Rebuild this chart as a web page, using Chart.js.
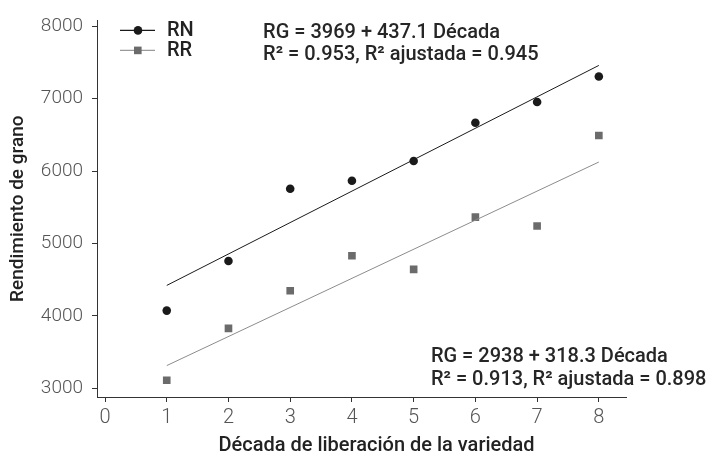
<!DOCTYPE html>
<html>
<head>
<meta charset="utf-8">
<script src="https://cdn.jsdelivr.net/npm/chart.js@4.4.1/dist/chart.umd.min.js"></script>
<style>
  html, body { margin: 0; padding: 0; background: #fff; }
  #wrap { width: 709px; height: 460px; }
</style>
</head>
<body>
<div id="wrap"><canvas id="yieldChart"></canvas></div>
<script>
// datos
const decades = [1, 2, 3, 4, 5, 6, 7, 8];
const yieldRN = [4072, 4757, 5755, 5866, 6140, 6667, 6955, 7306];
const yieldRR = [3110, 3827, 4346, 4830, 4642, 5364, 5241, 6491];

// rectas ajustadas (extremos)
const fitX = [1, 8];
const fitRN = [4420, 7460];
const fitRR = [3312, 6125];

const xTicks = [0, 1, 2, 3, 4, 5, 6, 7, 8];
const yTicks = [3000, 4000, 5000, 6000, 7000, 8000];

const eqRN = ["RG = 3969 + 437.1 Década", "R² = 0.953, R² ajustada = 0.945"];
const eqRR = ["RG = 2938 + 318.3 Década", "R² = 0.913, R² ajustada = 0.898"];

const colRN = "#1a1a1a";
const colRRpt = "#6b6b6b";
const colRRline = "#8c8c8c";
const axisCol = "#333333";

function pts(xs, ys) {
  return xs.map((x, i) => ({ x: x, y: ys[i] }));
}

/* ===============================
   LEYENDA, ECUACIONES, TÍTULO X
================================ */
const extrasPlugin = {
  id: "extras",
  afterDraw(chart) {
    const ctx = chart.ctx;
    const area = chart.chartArea;
    const xs = chart.scales.x;
    const ys = chart.scales.y;

    ctx.save();
    ctx.textBaseline = "middle";

    // leyenda
    const legend = [
      { label: "RN", line: colRN, fill: colRN, style: "circle", y: area.top + 10 },
      { label: "RR", line: "#9a9a9a", fill: colRRpt, style: "rect", y: area.top + 30 }
    ];
    legend.forEach(l => {
      const x0 = area.left + 23;
      ctx.strokeStyle = l.line;
      ctx.lineWidth = 1.2;
      ctx.beginPath();
      ctx.moveTo(x0, l.y);
      ctx.lineTo(x0 + 35, l.y);
      ctx.stroke();
      ctx.fillStyle = l.fill;
      if (l.style === "circle") {
        ctx.beginPath();
        ctx.arc(x0 + 18, l.y, 4.3, 0, Math.PI * 2);
        ctx.fill();
      } else {
        ctx.fillRect(x0 + 14, l.y - 3.8, 7.6, 7.6);
      }
      ctx.fillStyle = "#222";
      ctx.font = "500 20px Roboto";
      ctx.textAlign = "left";
      ctx.fillText(l.label, x0 + 47, l.y + 1);
    });

    // ecuaciones
    ctx.font = "500 20px Roboto";
    ctx.fillStyle = "#262626";
    ctx.textAlign = "left";
    const top = { x: xs.getPixelForValue(2.56), y: ys.getPixelForValue(7905) };
    eqRN.forEach((t, i) => ctx.fillText(t, top.x, top.y + i * 22));
    const bot = { x: xs.getPixelForValue(5.28), y: ys.getPixelForValue(3435) };
    eqRR.forEach((t, i) => ctx.fillText(t, bot.x, bot.y + i * 23));

    // título eje x
    ctx.font = "500 20px Roboto";
    ctx.fillStyle = "#222";
    ctx.textAlign = "center";
    ctx.fillText("Década de liberación de la variedad", (area.left + area.right) / 2 + 15, 446);

    ctx.restore();
  }
};

const ctx = document.getElementById("yieldChart");

new Chart(ctx, {
  type: "scatter",
  data: {
    datasets: [
      {
        label: "RN ajuste",
        data: pts(fitX, fitRN),
        showLine: true,
        borderColor: colRN,
        borderWidth: 1,
        pointRadius: 0
      },
      {
        label: "RR ajuste",
        data: pts(fitX, fitRR),
        showLine: true,
        borderColor: colRRline,
        borderWidth: 1,
        pointRadius: 0
      },
      {
        label: "RN",
        data: pts(decades, yieldRN),
        pointStyle: "circle",
        pointRadius: 4.3,
        pointBackgroundColor: colRN,
        pointBorderWidth: 0
      },
      {
        label: "RR",
        data: pts(decades, yieldRR),
        pointStyle: "rect",
        pointRadius: 5.4,
        pointBackgroundColor: colRRpt,
        pointBorderWidth: 0
      }
    ]
  },
  options: {
    responsive: true,
    maintainAspectRatio: false,
    animation: false,
    layout: { padding: { top: 14, right: 83, left: 0, bottom: 0 } },
    plugins: {
      legend: { display: false },
      tooltip: { enabled: false }
    },
    scales: {
      x: {
        type: "linear",
        min: -0.13,
        max: 8.44,
        afterFit(scale) { scale.height = 63; },
        afterBuildTicks(scale) { scale.ticks = xTicks.map(v => ({ value: v })); },
        ticks: {
          font: { family: "Roboto", weight: "300", size: 20 },
          color: "#555",
          padding: 4,
          callback: v => String(v)
        },
        grid: { drawOnChartArea: false, drawTicks: true, tickLength: 5, tickColor: axisCol },
        border: { display: true, color: axisCol, width: 1 }
      },
      y: {
        min: 2878,
        max: 8082,
        afterFit(scale) { scale.width = 97; },
        afterBuildTicks(scale) { scale.ticks = yTicks.map(v => ({ value: v })); },
        ticks: {
          font: { family: "Roboto", weight: "300", size: 19 },
          color: "#555",
          padding: 9,
          callback: v => String(v)
        },
        grid: { drawOnChartArea: false, drawTicks: true, tickLength: 5, tickColor: axisCol },
        border: { display: true, color: axisCol, width: 1 },
        title: {
          display: true,
          text: "Rendimiento de grano",
          font: { family: "Roboto", weight: "500", size: 19 },
          color: "#222",
          padding: { top: 7, bottom: 0 }
        }
      }
    }
  },
  plugins: [extrasPlugin]
});
</script>
</body>
</html>
